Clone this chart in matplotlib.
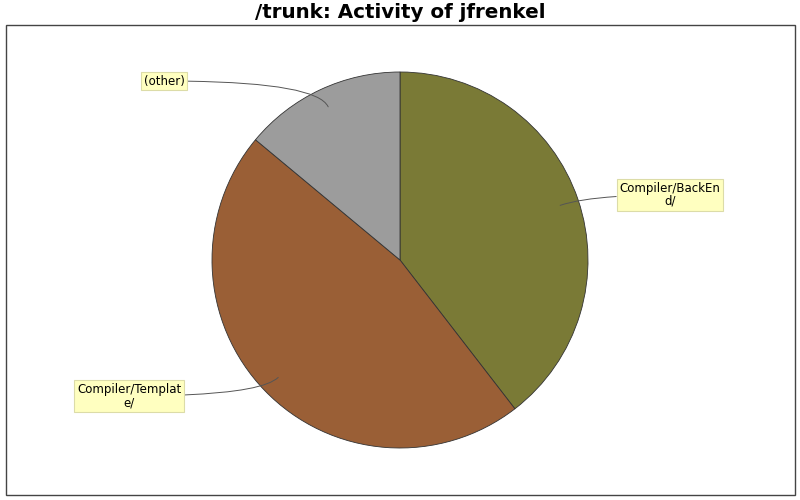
import matplotlib
matplotlib.use("Agg")
import matplotlib.pyplot as plt
from matplotlib.patches import Rectangle
import numpy as np

categories = ["Compiler/BackEnd/", "Compiler/Template/", "(other)"]
label_texts = ["Compiler/BackEn\nd/", "Compiler/Templat\ne/", "(other)"]
values = [17, 20, 6]
colors = ["#7a7a36", "#9a5f36", "#9c9c9c"]
label_pos = [(670, 305), (129, 104), (164, 419)]  # pixel-ish positions (y up)

fig = plt.figure(figsize=(8, 5), dpi=100)
ax = fig.add_axes([0, 0, 1, 1])
ax.set_axis_off()

wedges, _ = ax.pie(values, colors=colors, startangle=90, counterclock=False,
                   center=(400, 240), radius=188,
                   wedgeprops=dict(edgecolor="#333333", linewidth=0.6))
ax.set_xlim(0, 800)
ax.set_ylim(0, 500)
ax.set_aspect("equal")

ax.add_patch(Rectangle((5.5, 5), 789.5, 470, fill=False, edgecolor="#444444",
                       linewidth=1.0, zorder=0))

for w, txt, pos in zip(wedges, label_texts, label_pos):
    th = np.deg2rad((w.theta1 + w.theta2) / 2)
    ax_pt = (400 + 0.9 * 188 * np.cos(th), 240 + 0.9 * 188 * np.sin(th))
    ang = np.rad2deg(th)
    ax.annotate(txt, xy=ax_pt, xytext=pos, ha="center", va="center",
                fontsize=8.5, color="black", linespacing=1.0,
                bbox=dict(boxstyle="square,pad=0.25", fc="#ffffc0", ec="#dcdca8", lw=0.8),
                arrowprops=dict(arrowstyle="-", color="#555555", lw=0.7,
                                connectionstyle=f"angle3,angleA=0,angleB={ang}",
                                shrinkA=0, shrinkB=0))

fig.text(0.5, 1 - 12 / 500, "/trunk: Activity of jfrenkel", ha="center", va="center",
         fontsize=14.3, fontweight="bold")

fig.savefig("out.png", dpi=100)
